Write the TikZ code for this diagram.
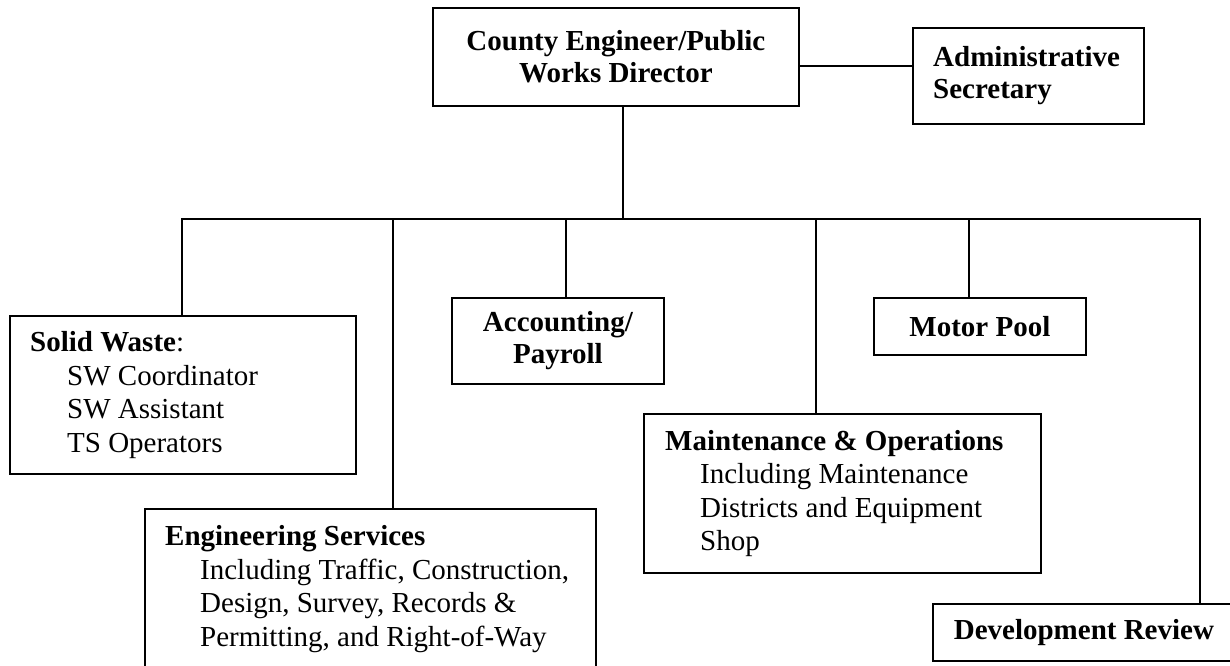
\documentclass[tikz,border=0pt]{standalone}
\usepackage{fontspec}
\setmainfont{Liberation Serif}
\begin{document}
\begin{tikzpicture}[x=1pt,y=-1pt,
  box/.style={draw, line width=1.8pt, inner sep=0pt, anchor=north west},
  txt/.style={inner sep=0pt, font=\fontsize{29}{33.5}\selectfont},
  btxt/.style={inner sep=0pt, font=\fontsize{29}{32}\selectfont\bfseries, align=center},
  link/.style={line width=1.8pt}]
\useasboundingbox (0,0) rectangle (1230,665);
\clip (0,0) rectangle (1230,665);
% boxes
\node[box, minimum width=366pt, minimum height=98pt] (dir) at (432,7) {};
\node[btxt] (dirt) at (dir.center) {County Engineer/Public\\Works Director};
\node[box, minimum width=231pt, minimum height=96pt] (adm) at (912,27) {};
\node[btxt, align=left, anchor=west] (admt) at ([xshift=21pt]adm.west) {Administrative\\Secretary};
\node[box, minimum width=346pt, minimum height=158pt] (sw) at (9,315) {};
\node[txt, align=left, anchor=west] (swt) at ([xshift=21pt]sw.west) {\textbf{Solid Waste}:\\\hspace*{37pt}SW Coordinator\\\hspace*{37pt}SW Assistant\\\hspace*{37pt}TS Operators};
\node[box, minimum width=451pt, minimum height=160pt] (eng) at (144,508) {};
\node[txt, align=left, anchor=west] (engt) at ([xshift=21pt]eng.west) {\textbf{Engineering Services}\\\hspace*{35pt}Including Traffic, Construction,\\\hspace*{35pt}Design, Survey, Records \&\\\hspace*{35pt}Permitting, and Right-of-Way};
\node[box, minimum width=212pt, minimum height=86pt] (acc) at (451,297) {};
\node[btxt] (acct) at (acc.center) {Accounting/\\Payroll};
\node[box, minimum width=212pt, minimum height=57pt] (mp) at (873,297) {};
\node[btxt] (mpt) at (mp.center) {Motor Pool};
\node[box, minimum width=397pt, minimum height=159pt] (mo) at (643,413) {};
\node[txt, align=left, anchor=west] (mot) at ([xshift=22pt]mo.west) {\textbf{Maintenance \& Operations}\\\hspace*{35pt}Including Maintenance\\\hspace*{35pt}Districts and Equipment\\\hspace*{35pt}Shop};
\node[box, minimum width=302pt, minimum height=57pt] (dev) at (932,603) {};
\node[btxt] (devt) at (dev.center) {Development Review};
% connector coordinates
\coordinate (top) at (623,219);
\coordinate (d1) at (182,219);
\coordinate (d2) at (393,219);
\coordinate (d3) at (566,219);
\coordinate (d4) at (816,219);
\coordinate (d5) at (969,219);
\coordinate (d6) at (1200,219);
\coordinate (ay) at (0,66);
% connectors
\draw[link] (dir.east |- ay) -- (adm.west |- ay);
\draw[link] (dir.south -| top) -- (top);
\draw[link] (sw.north -| d1) -- (d1) -- (d6) -- (dev.north -| d6);
\draw[link] (d2) -- (eng.north -| d2);
\draw[link] (d3) -- (acc.north -| d3);
\draw[link] (d4) -- (mo.north -| d4);
\draw[link] (d5) -- (mp.north -| d5);
\end{tikzpicture}
\end{document}
